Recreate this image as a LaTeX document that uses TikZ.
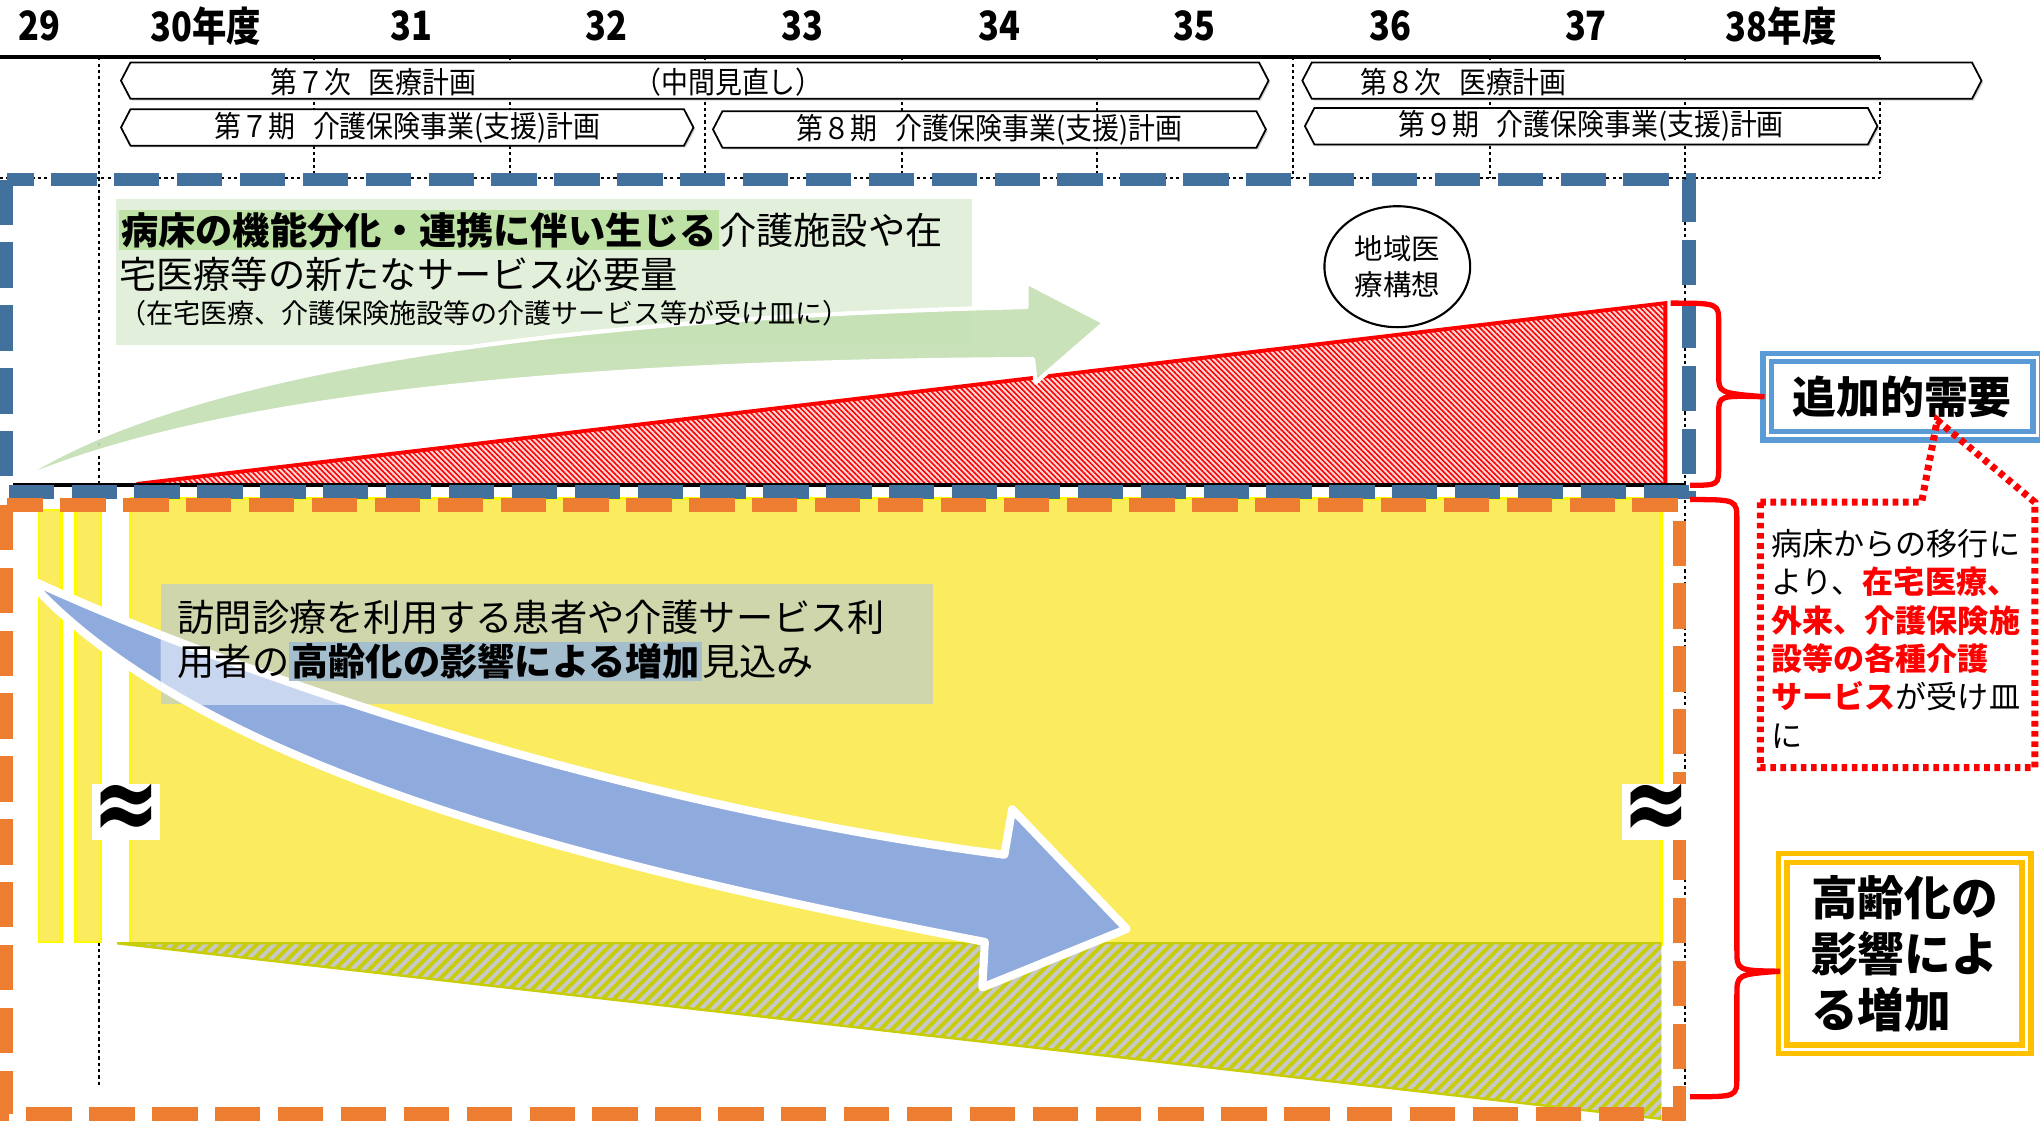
\documentclass[tikz,border=0pt]{standalone}
\usepackage{graphicx}
\usepackage{fontspec}
\setmainfont{Noto Sans CJK JP}
\newfontfamily\condfont{Noto Sans CJK JP}[FakeStretch=0.9]
\newfontfamily\yearfont{Noto Sans CJK JP}[FakeStretch=0.85]
\newfontfamily\symfont{DejaVu Sans}
\usetikzlibrary{positioning,shapes.geometric,shapes.symbols,patterns.meta,shadows}

\definecolor{areablue}{RGB}{65,113,156}
\definecolor{areaorange}{RGB}{237,125,49}
\definecolor{areayellow}{RGB}{250,236,94}
\definecolor{stripyellow}{RGB}{255,250,0}
\definecolor{arrowblue}{RGB}{143,170,220}
\definecolor{arrowbluelight}{RGB}{200,214,240}
\definecolor{arrowgreen}{RGB}{197,224,180}
\definecolor{boxgreen}{RGB}{226,239,218}
\definecolor{boxolive}{RGB}{208,214,172}
\definecolor{hatchgray}{RGB}{200,200,200}
\definecolor{hatchline}{RGB}{200,205,10}
\definecolor{trianglepink}{RGB}{255,215,215}
\definecolor{demandblue}{RGB}{91,155,213}
\definecolor{agegold}{RGB}{255,192,0}
\definecolor{glowgreen}{RGB}{190,226,165}
\definecolor{glowblue}{RGB}{165,190,205}

\def\pu{0.01301cm}
\newcommand{\agearrowpath}{(20,444) .. controls (150,505) and (450,615) .. (772,657) -- (778,622) -- (866,714) -- (755,759) -- (757,724) .. controls (450,665) and (150,590) .. (20,444) -- cycle}
\newcommand{\shiftarrowpath}{(10,371) .. controls (130,290) and (400,245) .. (789,236) -- (789,217) -- (849,248) -- (796,294) -- (794,276) .. controls (400,278) and (150,310) .. (10,371) -- cycle}

\begin{document}
\begin{tikzpicture}[x=0.01301cm, y=-0.01301cm,
  planbox/.style={signal, signal to=east and west, signal pointer angle=125, draw, line width=0.5pt, fill=white, inner sep=0pt, minimum height=28*\pu, drop shadow={shadow xshift=0.5pt, shadow yshift=-0.5pt, opacity=0.35}},
  plantext/.style={inner sep=0pt, font=\condfont\fontsize{8.5pt}{10pt}\selectfont},
  yeartext/.style={inner sep=0pt, font=\yearfont\bfseries\fontsize{11.5pt}{13pt}\selectfont},
  gridline/.style={line width=0.55pt, dash pattern=on 0.9pt off 0.9pt},
  areadash/.style={line width=3.9pt, dash pattern=on 12.9pt off 5pt},
  bodytext/.style={inner sep=0pt, align=left, font=\fontsize{10.6pt}{12.6pt}\selectfont},
  brace/.style={draw=red, line width=1.5pt},
  approx/.style={inner sep=0pt, fill=white, font=\symfont\bfseries\fontsize{23pt}{23pt}\selectfont}
]
\useasboundingbox[fill=white] (0,0) rectangle (1568,862);

% fiscal year grid
\foreach \xx in {241,392,542,693,843,994,1145,1445}
  \draw[gridline] (\xx,44) -- (\xx,137);
\draw[gridline] (76,44) -- (76,835);
\draw[gridline] (1295,44) -- (1295,858);
\draw[gridline] (0,137) -- (1445,137);

% ageing demand
\filldraw[areayellow, draw=stripyellow, line width=0.8pt] (100,383) rectangle (1277,726);
\filldraw[areayellow, draw=stripyellow, line width=0.8pt] (30,392) rectangle (47,724);
\filldraw[areayellow, draw=stripyellow, line width=0.8pt] (58,392) rectangle (77,724);
\fill[hatchgray] (90,725) -- (1277,725) -- (1277,860) -- cycle;
\fill[pattern={Lines[angle=45,distance=2.3pt,line width=1.1pt]}, pattern color=hatchline] (90,725) -- (1277,725) -- (1277,860) -- cycle;
\draw[hatchline, line width=0.7pt] (90,725) -- (1277,725) (90,725) -- (1277,860);

\filldraw[arrowblue, draw=white, line width=2.3pt, line join=round] \agearrowpath;
\node[fill=boxolive, minimum width=593*\pu, minimum height=92*\pu, inner sep=0pt] (visitbox) at (420.5,495) {};
\begin{scope}
  \clip (visitbox.south west) rectangle (visitbox.north east);
  \filldraw[arrowbluelight, draw=white, line width=2.3pt, line join=round] \agearrowpath;
\end{scope}
\node[bodytext, anchor=west] (visittext) at (136,492.5) {訪問診療を利用する患者や介護サービス利\\用者の{\setlength{\fboxsep}{0.6pt}\colorbox{glowblue}{\bfseries 高齢化の影響による増加}}見込み};

% additional demand
\fill[trianglepink] (105,372) -- (1280,233) -- (1280,372) -- cycle;
\fill[pattern={Lines[angle=-45,distance=1.1pt,line width=0.45pt]}, pattern color=red] (105,372) -- (1280,233) -- (1280,372) -- cycle;
\draw[red, line width=1.1pt] (105,372) -- (1280,233) -- (1280,372);

\node[fill=boxgreen, minimum width=658*\pu, minimum height=112*\pu, inner sep=0pt] (bedbox) at (418,209) {};
\filldraw[arrowgreen, draw=white, line width=1.2pt, fill opacity=0.92, line join=round] \shiftarrowpath;
\node[bodytext, anchor=west] (bedtext) at (91,193) {{\setlength{\fboxsep}{0.6pt}\colorbox{glowgreen}{\bfseries 病床の機能分化・連携に伴い生じる}}介護施設や在\\宅医療等の新たなサービス必要量};
\node[inner sep=0pt, anchor=west, font=\fontsize{7.7pt}{9pt}\selectfont] (bedsub) at (91,241) {（在宅医療、介護保険施設等の介護サービス等が受け皿に）};

% area frames
\draw[line width=1.2pt] (10,373) -- (1296,373);
\draw[areablue, areadash] (5,138) rectangle (1298,378);
\draw[areaorange, areadash] (5,388) rectangle (1291,856);

\node[ellipse, draw, line width=0.6pt, fill=white, minimum width=112*\pu, minimum height=93*\pu, inner sep=0pt, align=center, font=\fontsize{8.1pt}{10pt}\selectfont] (vision) at (1074,205) {地域医\\療構想};

\node[approx] (breakleft) at (97,624) {\scalebox{1}[1.35]{≈}};
\node[approx] (breakright) at (1273,624) {\scalebox{1}[1.35]{≈}};

% right-hand labels
\node[draw=demandblue, line width=1.5pt, double=white, double distance=0.8pt, fill=white, minimum width=207.5*\pu, minimum height=60*\pu, inner sep=0pt, font=\bfseries\fontsize{12.5pt}{14pt}\selectfont] (addbox) at (1462,305) {追加的需要};
\node[draw=agegold, line width=1.6pt, double=white, double distance=0.9pt, fill=white, minimum width=187.5*\pu, minimum height=147*\pu, inner sep=0pt, align=left, font=\bfseries\fontsize{13.3pt}{15.9pt}\selectfont] (agebox) at (1464,733) {高齢化の\\影響によ\\る増加};

\draw[red, line width=2pt, dash pattern=on 1.6pt off 1.3pt] (1353,386) -- (1477,386) -- (1489,323) -- (1564,386) -- (1564,590) -- (1353,590) -- cycle;
\node[anchor=west, inner sep=0pt, align=left, font=\fontsize{8.85pt}{10.9pt}\selectfont] (shiftnote) at (1361,491) {病床からの移行に\\より、\textcolor{red}{\bfseries 在宅医療、}\\\textcolor{red}{\bfseries 外来、介護保険施}\\\textcolor{red}{\bfseries 設等の各種介護}\\\textcolor{red}{\bfseries サービス}が受け皿\\に};

\draw[brace] (1284,233) .. controls (1321,233) .. (1321,248) -- (1321,288) .. controls (1321,302) .. (addbox.west) .. controls (1321,304) .. (1321,318) -- (1321,358) .. controls (1321,373) .. (1299,373);
\draw[brace] (1299,384) .. controls (1335,384) .. (1335,400) -- (1335,730) .. controls (1335,746) .. ([yshift=-5pt]agebox.west) .. controls (1335,749) .. (1335,765) -- (1335,828) .. controls (1335,843) .. (1299,843);

% plan periods
\node[planbox, minimum width=882*\pu] (plan7med) at (534,62) {};
\node[planbox, minimum width=522*\pu] (plan8med) at (1262,62) {};
\node[planbox, plantext, minimum width=440*\pu] (plan7care) at (313,98) {第７期\hspace{0.6em}介護保険事業(支援)計画};
\node[planbox, plantext, minimum width=425*\pu] (plan8care) at (760.5,99.5) {第８期\hspace{0.6em}介護保険事業(支援)計画};
\node[planbox, plantext, minimum width=440*\pu] (plan9care) at (1223,97) {第９期\hspace{0.6em}介護保険事業(支援)計画};
\node[plantext] (plan7medlabel) at (287,63) {第７次\hspace{0.6em}医療計画};
\node[plantext] (midreview) at (560,63) {（中間見直し）};
\node[plantext] (plan8medlabel) at (1125,63) {第８次\hspace{0.6em}医療計画};

\draw[line width=1.2pt] (0,44) -- (1445,44);
\foreach \xx/\yr [count=\i] in {30/29, 158/30年度, 316/31, 466/32, 617/33, 768/34, 918/35, 1069/36, 1219/37, 1369/38年度}
  \node[yeartext] (year\i) at (\xx,20) {\yr};
\end{tikzpicture}
\end{document}
